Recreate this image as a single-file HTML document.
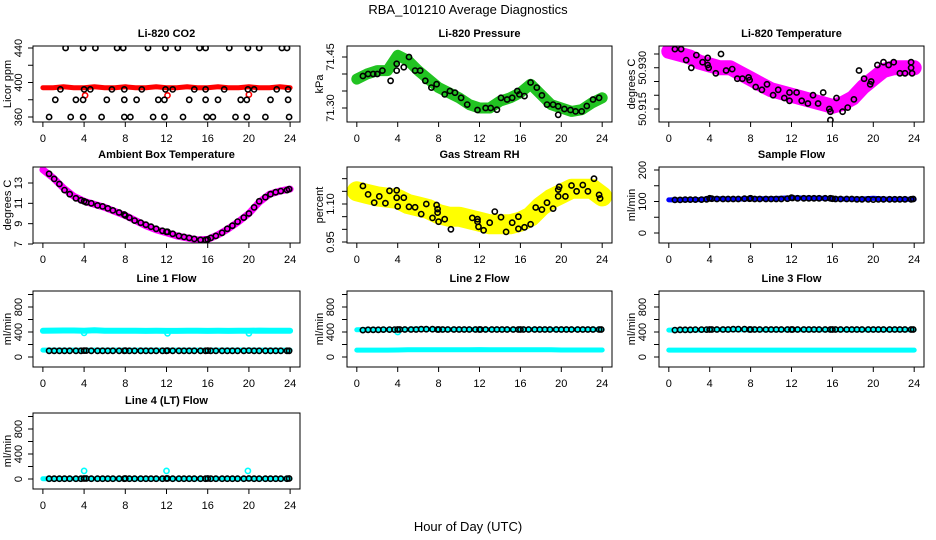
<!DOCTYPE html>
<html><head><meta charset="utf-8"><style>
html,body{margin:0;padding:0;background:#fff}
svg{display:block;font-family:"Liberation Sans",sans-serif}
</style></head><body>
<svg id="chart" width="936" height="540" viewBox="0 0 936 540" xmlns="http://www.w3.org/2000/svg">
<rect x="0" y="0" width="936" height="540" fill="#fff"/>
<text x="468" y="14" text-anchor="middle" font-size="13">RBA_101210  Average Diagnostics</text>
<text x="468" y="531" text-anchor="middle" font-size="13">Hour of Day (UTC)</text>
</svg>
<script>
// ---------- shared ----------
const X_TICKS = [0,4,8,12,16,20,24];
const BLK_H = [0.6,1.1,1.6,2.1,2.6,3.2,3.7,4.0,4.2,4.7,5.3,5.8,6.3,6.8,7.4,7.9,8.0,8.4,8.9,9.5,10.0,10.5,11.0,11.6,12.0,12.1,12.6,13.2,13.7,14.2,14.7,15.3,15.8,16.0,16.3,16.8,17.4,17.9,18.4,18.9,19.5,20.0,20.5,21.0,21.6,22.1,22.6,23.1,23.7,23.9];
const BAND_H = [0,1,2,3,4,5,6,7,8,9,10,11,12,13,14,15,16,17,18,19,20,21,22,23,24];

// ---------- CO2 ----------
const CO2_BLK_H = [0.6,1.2,1.7,2.2,2.7,3.2,3.9,3.9,3.9,4.0,4.6,5.1,5.7,6.2,6.7,7.2,7.8,7.9,7.9,7.9,8.5,9.1,9.6,10.2,10.7,11.2,11.8,11.9,11.8,11.9,12.6,13.1,13.6,14.2,14.7,15.2,15.8,15.8,15.9,15.8,16.5,17.0,17.6,18.1,18.7,19.2,19.8,19.9,19.8,19.9,20.5,21.0,21.6,22.1,22.7,23.2,23.7,23.8,23.8,23.9];
const CO2_BLK_V = [360,380,392,440,360,380,380,440,360,392,392,440,360,380,392,440,440,380,360,392,360,380,392,440,360,380,380,440,360,392,392,440,360,380,392,440,440,380,360,392,360,380,392,440,360,380,380,440,360,392,392,440,360,380,392,440,440,392,380,360];
const CO2_BAND_V = [394,394,395,394,394,395,394,394,395,394,394,395,394,394,395,394,394,395,394,394,395,394,394,395,394];
const CO2_RED_H = [4.1,12.1,20.0];
const CO2_RED_V = [385,385,386];
const CO2_YTICKS = [360,380,400,420,440];
const CO2_YLAB = ["360","","400","","440"];

// ---------- Pressure ----------
const PR_BLK_H = [0.6,1.1,1.6,2.0,2.5,3.3,3.9,3.9,4.6,5.1,5.7,6.2,6.7,7.3,7.8,8.6,9.1,9.6,10.2,10.8,11.8,12.6,13.1,13.7,14.1,14.7,15.2,15.7,15.9,16.4,17.0,17.6,18.1,18.6,19.2,19.7,19.7,20.3,20.9,21.4,22.0,22.5,23.1,23.7];
const PR_BLK_V = [71.394,71.40,71.40,71.40,71.41,71.38,71.41,71.43,71.42,71.45,71.41,71.41,71.38,71.36,71.37,71.34,71.35,71.345,71.33,71.31,71.294,71.30,71.30,71.295,71.33,71.325,71.33,71.35,71.34,71.335,71.375,71.36,71.337,71.31,71.31,71.305,71.28,71.297,71.294,71.29,71.29,71.306,71.325,71.33];
const PR_BAND_V = [71.385,71.40,71.41,71.41,71.455,71.44,71.41,71.385,71.36,71.345,71.33,71.31,71.30,71.30,71.32,71.33,71.345,71.37,71.34,71.31,71.30,71.29,71.295,71.315,71.33];
const PR_YTICKS = [71.30,71.35,71.40,71.45];
const PR_YLAB = ["71.30","","","71.45"];

// ---------- Li-820 Temperature ----------
const TP_BLK_H = [0.6,1.2,1.7,2.2,2.7,3.3,3.8,3.8,3.9,4.6,5.1,5.6,6.2,6.7,7.2,7.8,7.9,8.5,9.1,9.6,10.2,10.7,11.3,11.8,11.8,12.5,13.0,13.6,14.1,14.6,15.1,15.7,15.8,15.8,16.4,17.0,17.5,18.1,18.6,19.1,19.7,19.8,20.4,21.0,21.5,22.0,22.6,23.1,23.7,23.7,23.8];
const TP_BLK_V = [50.9368,50.9368,50.9328,50.930,50.9346,50.932,50.9336,50.931,50.930,50.928,50.935,50.929,50.9295,50.926,50.926,50.9265,50.9255,50.923,50.922,50.924,50.920,50.922,50.919,50.918,50.921,50.921,50.918,50.917,50.920,50.917,50.921,50.915,50.914,50.911,50.919,50.914,50.9155,50.9185,50.929,50.926,50.924,50.925,50.931,50.932,50.931,50.932,50.928,50.928,50.932,50.930,50.928];
const TP_BAND_V = [50.936,50.935,50.934,50.932,50.931,50.930,50.930,50.928,50.926,50.924,50.922,50.921,50.920,50.919,50.918,50.917,50.916,50.917,50.919,50.923,50.926,50.929,50.930,50.930,50.930];
const TP_YTICKS = [50.915,50.920,50.925,50.930,50.935];
const TP_YLAB = ["50.915","","","50.930",""];

// ---------- Ambient ----------
const AMB_BLK_V = [13.9,13.4,12.9,12.3,11.9,11.5,11.3,11.2,11.1,11.0,10.8,10.7,10.5,10.3,10.1,9.9,9.8,9.6,9.3,9.1,8.9,8.7,8.5,8.3,8.2,8.2,8.0,7.8,7.7,7.6,7.5,7.4,7.4,7.45,7.6,7.8,8.1,8.5,8.8,9.2,9.6,10.0,10.6,11.2,11.6,11.9,12.1,12.2,12.3,12.4];
const AMB_BAND_V = [14.3,13.5,12.5,11.7,11.2,10.9,10.6,10.2,9.8,9.3,8.8,8.4,8.1,7.8,7.6,7.4,7.45,7.9,8.5,9.2,10.0,11.1,11.9,12.2,12.4];
const AMB_YTICKS = [7,9,11,13];
const AMB_YLAB = ["7","9","11","13"];

// ---------- RH ----------
const RH_BLK_H = [0.6,1.1,1.7,2.2,2.8,3.2,3.9,3.9,4.0,4.6,5.1,5.7,6.3,6.8,7.4,7.8,7.9,7.9,8.0,8.6,9.2,11.3,11.8,11.8,11.9,12.4,13.0,13.5,14.1,14.6,15.2,15.8,15.8,16.4,17.0,17.5,18.1,18.6,19.2,19.7,19.7,19.8,20.4,21.0,21.5,22.1,22.6,23.2,23.7,23.8];
const RH_BLK_V = [1.171,1.138,1.105,1.13,1.103,1.152,1.154,1.125,1.09,1.125,1.089,1.087,1.06,1.10,1.045,1.096,1.08,1.066,1.03,1.04,1.0,1.045,1.04,1.03,1.01,0.996,1.026,1.07,1.048,0.99,1.026,1.05,1.002,1.008,1.02,1.086,1.078,1.105,1.082,1.157,1.13,1.168,1.13,1.173,1.15,1.175,1.15,1.2,1.136,1.122];
const RH_BAND_V = [1.15,1.14,1.13,1.125,1.12,1.10,1.09,1.08,1.06,1.05,1.05,1.04,1.03,1.02,1.02,1.02,1.03,1.05,1.09,1.12,1.14,1.16,1.16,1.16,1.13];
const RH_YTICKS = [0.95,1.00,1.05,1.10,1.15,1.20];
const RH_YLAB = ["0.95","","","1.10","",""];

// ---------- Sample flow ----------
const SF_BLK_V = [105,105,106,106,106,106,107,110,109,108,108,108,108,108,109,109,110,108,108,108,108,108,108,109,112,111,110,110,110,110,110,110,110,109,108,108,108,108,107,107,107,106,107,107,107,107,107,107,107,108];
const SF_BAND_V = [105,105,106,106,109,109,108,108,109,109,109,110,112,111,110,110,109,108,108,108,110,108,107,107,107];
const SF_YTICKS = [0,50,100,150,200];
const SF_YLAB = ["0","","100","","200"];

// ---------- Line flows ----------
const FL_YTICKS = [0,200,400,600,800,1000];
const FL_YLAB = ["0","","400","","800",""];
const L1_BLK_V = [100,100,100,100,100,100,100,102,102,100,100,100,100,100,100,100,102,100,100,100,100,100,100,100,100,102,100,100,100,100,100,100,100,102,100,100,100,100,100,100,100,102,100,100,100,100,100,100,100,100];
const L1_HI_V = [420,422,424,424,420,428,420,420,420,420,418,420,418,418,420,420,418,420,418,420,420,422,420,420,420];
const L1_LO_V = [110,110,110,110,110,110,110,110,110,110,110,110,110,110,110,110,110,110,110,110,110,110,110,110,110];
const L1_DIP_H = [4.0,12.1,20.0];
const L1_DIP_V = [385,380,380];
const L2_BLK_V = [430,435,436,436,438,438,438,440,440,440,440,440,445,445,445,440,440,440,440,440,440,440,440,440,440,440,440,440,440,440,440,440,440,440,440,440,440,440,440,440,440,440,440,440,440,440,440,440,440,440];
const L2_HI_V = [435,438,438,438,440,442,450,445,442,440,440,440,440,440,440,440,440,440,440,440,440,440,440,440,440];
const L2_LO_V = [110,110,110,110,112,115,115,115,115,115,115,115,118,115,115,115,115,115,115,115,112,112,112,112,112];
const L2_DIP_H = [4.0];
const L2_DIP_V = [400];
const L3_BLK_V = L2_BLK_V.slice();
const L3_HI_V = [430,432,432,432,435,440,438,436,436,436,436,436,436,436,436,436,436,436,436,436,436,436,436,436,436];
const L3_LO_V = [110,110,110,110,110,110,110,110,110,110,110,110,110,110,110,110,110,110,110,110,110,110,110,110,110];
const L4_BLK_V = [5,5,5,5,5,5,5,8,8,5,5,5,5,5,5,5,8,5,5,5,5,5,5,5,8,8,5,5,5,5,5,5,5,8,5,5,5,5,5,5,5,8,5,5,5,5,5,5,5,8];
const L4_BAND_V = [5,5,5,5,5,5,5,5,5,5,5,5,5,5,5,5,5,5,5,5,5,5,5,5,5];
const L4_SPIKE_H = [4.0,12.0,19.9];
const L4_SPIKE_V = [130,130,130];

const NS = "http://www.w3.org/2000/svg";
const svg = document.getElementById('chart');
const ROW_TOP = [46,167,291,413];
function mk(tag, attrs, parent){
  const e = document.createElementNS(NS, tag);
  for (const k in attrs) e.setAttribute(k, attrs[k]);
  parent.appendChild(e);
  return e;
}

function panel(c){
  const cellX = c.col*312;
  const L = cellX + (c.col===0 ? 33 : 35), R = cellX + 300;
  const T = ROW_TOP[c.row], B = T + 76;
  const g = mk('g', {}, svg);
  
  
  const xs = h => L + (h + 0.96) / 25.92 * (R - L);
  const ys = v => T + c.offA + (v - c.vA) * (c.offB - c.offA) / (c.vB - c.vA);
  const cid = 'clip-' + c.name;
  const cp = mk('clipPath', {id: cid}, g);
  mk('rect', {x: L, y: T, width: R-L, height: B-T}, cp);
  const plot = mk('g', {'clip-path': 'url(#' + cid + ')'}, g);
  
  

  (c.bands || []).forEach(bd => {
    const pts = bd.h.map((h,i) => xs(h).toFixed(1) + ',' + ys(bd.v[i]).toFixed(1)).join(' ');
    const pl = mk('polyline', {points: pts, fill: 'none', stroke: bd.color, 'stroke-width': bd.w, 'stroke-linejoin': 'round', 'stroke-linecap': 'round'}, plot);
    
    
  });
  (c.points || []).forEach(ps => {
    ps.h.forEach((h,i) => {
      if (ps.v[i] === undefined) return;
      const ci = mk('circle', {cx: xs(h).toFixed(1), cy: ys(ps.v[i]).toFixed(1), r: ps.r || 2.6, fill: 'none', stroke: ps.color, 'stroke-width': 1.6}, plot);
      
      
    });
  });

  const box = mk('rect', {x: L, y: T, width: R-L, height: B-T, fill: 'none', stroke: '#000', 'stroke-width': 1}, g);
  
  

  const xax = mk('g', {}, g);
  
  
  mk('line', {x1: xs(0), x2: xs(24), y1: B, y2: B, stroke: '#000'}, xax);
  X_TICKS.forEach(t => {
    mk('line', {x1: xs(t), x2: xs(t), y1: B, y2: B+5, stroke: '#000'}, xax);
    const tx = mk('text', {x: xs(t), y: B+20, 'text-anchor': 'middle', 'font-size': 11}, xax);
    tx.textContent = String(t);
    
    
  });

  const yax = mk('g', {}, g);
  
  
  mk('line', {x1: L, x2: L, y1: ys(c.yt[0]), y2: ys(c.yt[c.yt.length-1]), stroke: '#000'}, yax);
  c.yt.forEach((t,i) => {
    const y = ys(t);
    mk('line', {x1: L-5, x2: L, y1: y, y2: y, stroke: '#000'}, yax);
    if (c.yl[i]) {
      const lx = cellX + 22;
      const tx = mk('text', {x: lx, y: y, 'text-anchor': 'middle', 'font-size': 11, transform: 'rotate(-90 ' + lx + ' ' + y + ')'}, yax);
      tx.textContent = c.yl[i];
      
      
    }
  });
  const yx = cellX + 11, yy = (T + B) / 2;
  const yt = mk('text', {x: yx, y: yy, 'text-anchor': 'middle', 'font-size': 11, transform: 'rotate(-90 ' + yx + ' ' + yy + ')'}, g);
  yt.textContent = c.ylab;
  
  

  const tt = mk('text', {x: (L+R)/2, y: T-9, 'text-anchor': 'middle', 'font-size': 11, 'font-weight': 'bold'}, g);
  tt.textContent = c.title;
  
  
}

const CY = '#00ffff';
panel({name:'co2', col:0, row:0, title:'Li-820 CO2', ylab:'Licor ppm', vA:440, offA:2, vB:360, offB:71, yt:CO2_YTICKS, yl:CO2_YLAB,
  bands:[{name:'co2-red-band', h:BAND_H, v:CO2_BAND_V, color:'#ff0000', w:5}],
  points:[{name:'co2-red-point', h:CO2_RED_H, v:CO2_RED_V, color:'#ff0000'},{name:'co2-black-point', h:CO2_BLK_H, v:CO2_BLK_V, color:'#000'}]});
panel({name:'pressure', col:1, row:0, title:'Li-820 Pressure', ylab:'kPa', vA:71.45, offA:11, vB:71.30, offB:62, yt:PR_YTICKS, yl:PR_YLAB,
  bands:[{name:'pressure-green-band', h:BAND_H, v:PR_BAND_V, color:'#22c322', w:11}],
  points:[{name:'pressure-black-point', h:PR_BLK_H, v:PR_BLK_V, color:'#000'}]});
panel({name:'li820-temp', col:2, row:0, title:'Li-820 Temperature', ylab:'degrees C', vA:50.935, offA:8, vB:50.915, offB:63, yt:TP_YTICKS, yl:TP_YLAB,
  bands:[{name:'temp-magenta-band', h:BAND_H, v:TP_BAND_V, color:'#ff00ff', w:15}],
  points:[{name:'temp-black-point', h:TP_BLK_H, v:TP_BLK_V, color:'#000'}]});
panel({name:'ambient-temp', col:0, row:1, title:'Ambient Box Temperature', ylab:'degrees C', vA:13, offA:16, vB:7, offB:77, yt:AMB_YTICKS, yl:AMB_YLAB,
  bands:[{name:'ambient-magenta-band', h:BAND_H, v:AMB_BAND_V, color:'#ff00ff', w:7}],
  points:[{name:'ambient-black-point', h:BLK_H, v:AMB_BLK_V, color:'#000'}]});
panel({name:'rh', col:1, row:1, title:'Gas Stream RH', ylab:'percent', vA:1.10, offA:37, vB:0.95, offB:75, yt:RH_YTICKS, yl:RH_YLAB,
  bands:[{name:'rh-yellow-band', h:BAND_H, v:RH_BAND_V, color:'#ffff00', w:20}],
  points:[{name:'rh-black-point', h:RH_BLK_H, v:RH_BLK_V, color:'#000'}]});
panel({name:'sample-flow', col:2, row:1, title:'Sample Flow', ylab:'ml/min', vA:200, offA:3, vB:0, offB:66, yt:SF_YTICKS, yl:SF_YLAB,
  bands:[{name:'sample-blue-band', h:BAND_H, v:SF_BAND_V, color:'#0000ff', w:5}],
  points:[{name:'sample-black-point', h:BLK_H, v:SF_BLK_V, color:'#000'}]});
panel({name:'line1-flow', col:0, row:2, title:'Line 1 Flow', ylab:'ml/min', vA:800, offA:16, vB:0, offB:66, yt:FL_YTICKS, yl:FL_YLAB,
  bands:[{name:'line1-upper-band', h:BAND_H, v:L1_HI_V, color:CY, w:6},{name:'line1-lower-band', h:BAND_H, v:L1_LO_V, color:CY, w:5}],
  points:[{name:'line1-dip-point', h:L1_DIP_H, v:L1_DIP_V, color:CY},{name:'line1-black-point', h:BLK_H, v:L1_BLK_V, color:'#000'}]});
panel({name:'line2-flow', col:1, row:2, title:'Line 2 Flow', ylab:'ml/min', vA:800, offA:16, vB:0, offB:66, yt:FL_YTICKS, yl:FL_YLAB,
  bands:[{name:'line2-upper-band', h:BAND_H, v:L2_HI_V, color:CY, w:5},{name:'line2-lower-band', h:BAND_H, v:L2_LO_V, color:CY, w:5}],
  points:[{name:'line2-dip-point', h:L2_DIP_H, v:L2_DIP_V, color:CY},{name:'line2-black-point', h:BLK_H, v:L2_BLK_V, color:'#000'}]});
panel({name:'line3-flow', col:2, row:2, title:'Line 3 Flow', ylab:'ml/min', vA:800, offA:16, vB:0, offB:66, yt:FL_YTICKS, yl:FL_YLAB,
  bands:[{name:'line3-upper-band', h:BAND_H, v:L3_HI_V, color:CY, w:5},{name:'line3-lower-band', h:BAND_H, v:L3_LO_V, color:CY, w:5}],
  points:[{name:'line3-black-point', h:BLK_H, v:L3_BLK_V, color:'#000'}]});
panel({name:'line4-flow', col:0, row:3, title:'Line 4 (LT) Flow', ylab:'ml/min', vA:800, offA:16, vB:0, offB:66, yt:FL_YTICKS, yl:FL_YLAB,
  bands:[{name:'line4-band', h:BAND_H, v:L4_BAND_V, color:CY, w:5}],
  points:[{name:'line4-spike-point', h:L4_SPIKE_H, v:L4_SPIKE_V, color:CY},{name:'line4-black-point', h:BLK_H, v:L4_BLK_V, color:'#000'}]});
</script>
</body></html>
